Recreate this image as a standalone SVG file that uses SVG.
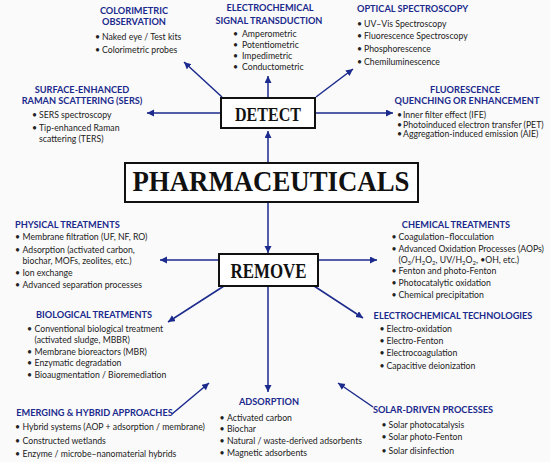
<svg xmlns="http://www.w3.org/2000/svg" width="550" height="462" viewBox="0 0 550 462">
<style>
.t{font-family:Lato,"Liberation Sans",sans-serif;font-weight:700;font-size:9.2px;fill:#1b2a8c}
.tc{text-anchor:middle}
.b{font-family:Lato,"Liberation Sans",sans-serif;font-size:8.7px;fill:#222}
.box{fill:#fff;stroke:#111;stroke-width:2}
.big{font-family:"Liberation Serif",serif;font-weight:700;fill:#111;text-anchor:middle}
.c line{stroke:#1b2a8c;stroke-width:1.5;marker-end:url(#ah)}
</style>
<defs>
<marker id="ah" markerUnits="userSpaceOnUse" markerWidth="8" markerHeight="8" refX="7" refY="3.5" orient="auto">
<path d="M0,0 L7,3.5 L0,7 Z" fill="#1b2a8c"/>
</marker>
</defs>
<rect width="550" height="462" fill="#fafafa"/>

<g id="connectors" class="c">
<line x1="268" y1="163" x2="268" y2="131"/>
<line x1="268" y1="202" x2="268" y2="253"/>
<line x1="221" y1="113" x2="147" y2="113"/>
<line x1="315" y1="113" x2="393" y2="113"/>
<line x1="222" y1="97" x2="184" y2="62"/>
<line x1="268" y1="98" x2="268" y2="76"/>
<line x1="316" y1="97" x2="353" y2="69"/>
<line x1="219" y1="260" x2="160" y2="260"/>
<line x1="318" y1="260" x2="377" y2="260"/>
<line x1="224" y1="286" x2="168" y2="322"/>
<line x1="314" y1="286" x2="363" y2="318"/>
<line x1="268" y1="286" x2="268" y2="392"/>
<line x1="172" y1="414" x2="209" y2="383"/>
<line x1="373" y1="407" x2="338" y2="383"/>
</g>

<g id="detect">
<rect class="box" x="221" y="98" width="94" height="30"/>
<text class="big" x="268" y="121" font-size="19" textLength="66" lengthAdjust="spacingAndGlyphs">DETECT</text>
</g>
<g id="pharmaceuticals">
<rect class="box" x="125" y="163" width="293" height="39" stroke-width="2.5"/>
<text class="big" x="271" y="191" font-size="29" textLength="277" lengthAdjust="spacingAndGlyphs">PHARMACEUTICALS</text>
</g>
<g id="remove">
<rect class="box" x="219" y="254" width="99" height="32"/>
<text class="big" x="268.5" y="278" font-size="20" textLength="76" lengthAdjust="spacingAndGlyphs">REMOVE</text>
</g>

<g id="colorimetric">
<text class="t tc" x="134" y="14">COLORIMETRIC</text>
<text class="t tc" x="134" y="25">OBSERVATION</text>
<text class="b"><tspan x="95" y="39.5">•</tspan><tspan x="102">Naked eye / Test kits</tspan></text>
<text class="b"><tspan x="95" y="52.5">•</tspan><tspan x="102">Colorimetric probes</tspan></text>
</g>

<g id="electrochemical-signal">
<text class="t tc" x="270" y="11">ELECTROCHEMICAL</text>
<text class="t tc" x="269" y="24">SIGNAL TRANSDUCTION</text>
<text class="b"><tspan x="233" y="36.5">•</tspan><tspan x="242">Amperometric</tspan></text>
<text class="b"><tspan x="233" y="47.5">•</tspan><tspan x="242">Potentiometric</tspan></text>
<text class="b"><tspan x="233" y="58.5">•</tspan><tspan x="242">Impedimetric</tspan></text>
<text class="b"><tspan x="233" y="69.5">•</tspan><tspan x="242">Conductometric</tspan></text>
</g>

<g id="optical">
<text class="t" x="357" y="12">OPTICAL SPECTROSCOPY</text>
<text class="b"><tspan x="357" y="26.5">•</tspan><tspan x="364">UV–Vis Spectroscopy</tspan></text>
<text class="b"><tspan x="357" y="39">•</tspan><tspan x="364">Fluorescence Spectroscopy</tspan></text>
<text class="b"><tspan x="357" y="51.5">•</tspan><tspan x="364">Phosphorescence</tspan></text>
<text class="b"><tspan x="357" y="64.5">•</tspan><tspan x="364">Chemiluminescence</tspan></text>
</g>

<g id="fluorescence">
<text class="t tc" x="465" y="93">FLUORESCENCE</text>
<text class="t tc" x="467" y="104">QUENCHING OR ENHANCEMENT</text>
<text class="b"><tspan x="397" y="117.5">•</tspan><tspan x="403">Inner filter effect (IFE)</tspan></text>
<text class="b"><tspan x="397" y="127.5">•</tspan><tspan x="403">Photoinduced electron transfer (PET)</tspan></text>
<text class="b"><tspan x="397" y="137">•</tspan><tspan x="403">Aggregation-induced emission (AIE)</tspan></text>
</g>

<g id="sers">
<text class="t tc" x="82" y="93">SURFACE-ENHANCED</text>
<text class="t tc" x="82" y="104">RAMAN SCATTERING (SERS)</text>
<text class="b"><tspan x="32" y="118">•</tspan><tspan x="39">SERS spectroscopy</tspan></text>
<text class="b"><tspan x="32" y="131">•</tspan><tspan x="39">Tip-enhanced Raman</tspan></text>
<text class="b" x="39" y="141.5">scattering (TERS)</text>
</g>

<g id="physical">
<text class="t" x="15" y="227.5">PHYSICAL TREATMENTS</text>
<text class="b"><tspan x="15" y="240">•</tspan><tspan x="22.5">Membrane filtration (UF, NF, RO)</tspan></text>
<text class="b"><tspan x="15" y="252.5">•</tspan><tspan x="22.5">Adsorption (activated carbon,</tspan></text>
<text class="b" x="22.5" y="264">biochar, MOFs, zeolites, etc.)</text>
<text class="b"><tspan x="15" y="275.5">•</tspan><tspan x="22.5">Ion exchange</tspan></text>
<text class="b"><tspan x="15" y="287.5">•</tspan><tspan x="22.5">Advanced separation processes</tspan></text>
</g>

<g id="biological">
<text class="t tc" x="94" y="317.5">BIOLOGICAL TREATMENTS</text>
<text class="b"><tspan x="27" y="331.5">•</tspan><tspan x="34.5">Conventional biological treatment</tspan></text>
<text class="b" x="34.5" y="342.5">(activated sludge, MBBR)</text>
<text class="b"><tspan x="27" y="354.5">•</tspan><tspan x="34.5">Membrane bioreactors (MBR)</tspan></text>
<text class="b"><tspan x="27" y="366">•</tspan><tspan x="34.5">Enzymatic degradation</tspan></text>
<text class="b"><tspan x="27" y="377.5">•</tspan><tspan x="34.5">Bioaugmentation / Bioremediation</tspan></text>
</g>

<g id="emerging">
<text class="t tc" x="94.5" y="416">EMERGING &amp; HYBRID APPROACHES</text>
<text class="b"><tspan x="15" y="429.5">•</tspan><tspan x="22.5">Hybrid systems (AOP + adsorption / membrane)</tspan></text>
<text class="b"><tspan x="15" y="444">•</tspan><tspan x="22.5">Constructed wetlands</tspan></text>
<text class="b"><tspan x="15" y="456.5">•</tspan><tspan x="22.5">Enzyme / microbe–nanomaterial hybrids</tspan></text>
</g>

<g id="adsorption">
<text class="t tc" x="269" y="405">ADSORPTION</text>
<text class="b"><tspan x="219.5" y="420.5">•</tspan><tspan x="227">Activated carbon</tspan></text>
<text class="b"><tspan x="219.5" y="432">•</tspan><tspan x="227">Biochar</tspan></text>
<text class="b"><tspan x="219.5" y="444">•</tspan><tspan x="227">Natural / waste-derived adsorbents</tspan></text>
<text class="b"><tspan x="219.5" y="456">•</tspan><tspan x="227">Magnetic adsorbents</tspan></text>
</g>

<g id="solar">
<text class="t tc" x="433" y="413">SOLAR-DRIVEN PROCESSES</text>
<text class="b"><tspan x="381.5" y="427.5">•</tspan><tspan x="388.5">Solar photocatalysis</tspan></text>
<text class="b"><tspan x="381.5" y="440">•</tspan><tspan x="388.5">Solar photo-Fenton</tspan></text>
<text class="b"><tspan x="381.5" y="453.5">•</tspan><tspan x="388.5">Solar disinfection</tspan></text>
</g>

<g id="chemical">
<text class="t tc" x="456" y="227.5">CHEMICAL TREATMENTS</text>
<text class="b"><tspan x="391.5" y="240">•</tspan><tspan x="398.5">Coagulation–flocculation</tspan></text>
<text class="b"><tspan x="391.5" y="251.5">•</tspan><tspan x="398.5">Advanced Oxidation Processes (AOPs)</tspan></text>
<text class="b" x="398.5" y="262.5">(O<tspan font-size="6" dy="2">3</tspan><tspan dy="-2">/H</tspan><tspan font-size="6" dy="2">2</tspan><tspan dy="-2">O</tspan><tspan font-size="6" dy="2">2</tspan><tspan dy="-2">, UV/H</tspan><tspan font-size="6" dy="2">2</tspan><tspan dy="-2">O</tspan><tspan font-size="6" dy="2">2</tspan><tspan dy="-2">, •OH, etc.)</tspan></text>
<text class="b"><tspan x="391.5" y="274">•</tspan><tspan x="398.5">Fenton and photo-Fenton</tspan></text>
<text class="b"><tspan x="391.5" y="285.5">•</tspan><tspan x="398.5">Photocatalytic oxidation</tspan></text>
<text class="b"><tspan x="391.5" y="297.5">•</tspan><tspan x="398.5">Chemical precipitation</tspan></text>
</g>

<g id="electrochemical-tech">
<text class="t tc" x="453" y="318.5">ELECTROCHEMICAL TECHNOLOGIES</text>
<text class="b"><tspan x="379.5" y="331.5">•</tspan><tspan x="386.5">Electro-oxidation</tspan></text>
<text class="b"><tspan x="379.5" y="344">•</tspan><tspan x="386.5">Electro-Fenton</tspan></text>
<text class="b"><tspan x="379.5" y="356">•</tspan><tspan x="386.5">Electrocoagulation</tspan></text>
<text class="b"><tspan x="379.5" y="368.5">•</tspan><tspan x="386.5">Capacitive deionization</tspan></text>
</g>
</svg>
